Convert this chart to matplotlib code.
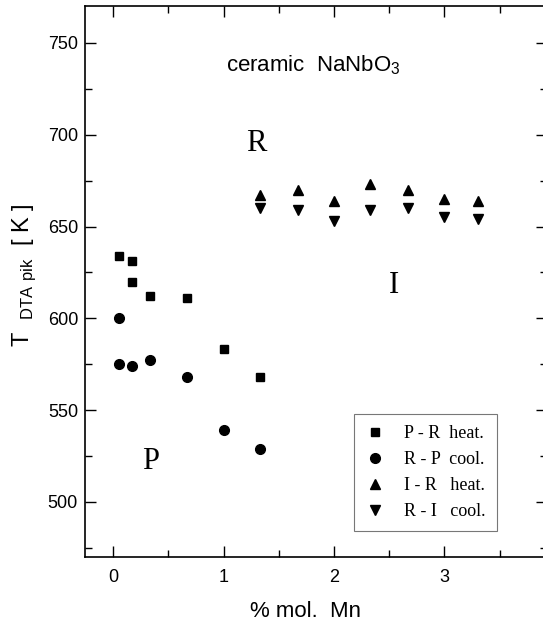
import matplotlib
matplotlib.use("Agg")
import matplotlib.pyplot as plt
from matplotlib.ticker import MultipleLocator

# % mol. Mn and DTA peak temperatures [K]
x_pr = [0.05, 0.17, 0.17, 0.33, 0.67, 1.0, 1.33]
t_pr_heat = [634, 631, 620, 612, 611, 583, 568]
x_rp = [0.05, 0.05, 0.17, 0.33, 0.67, 1.0, 1.33]
t_rp_cool = [600, 575, 574, 577, 568, 539, 529]
x_ir = [1.33, 1.67, 2.0, 2.33, 2.67, 3.0, 3.3]
t_ir_heat = [667, 670, 664, 673, 670, 665, 664]
t_ri_cool = [660, 659, 653, 659, 660, 655, 654]

plt.rcParams['font.family'] = ['Liberation Sans', 'DejaVu Sans']

fig = plt.figure(figsize=(5.43, 6.25), dpi=100)
ax = fig.add_axes([0.1565, 0.109, 0.851, 0.881])

ax.plot(x_pr, t_pr_heat, 's', color='black', markersize=6, label="P - R  heat.")
ax.plot(x_rp, t_rp_cool, 'o', color='black', markersize=7, label="R - P  cool.")
ax.plot(x_ir, t_ir_heat, '^', color='black', markersize=7.5, label="I - R   heat.")
ax.plot(x_ir, t_ri_cool, 'v', color='black', markersize=7.5, label="R - I   cool.")

ax.set_xlim(-0.255, 3.93)
ax.set_ylim(470, 770)
ax.xaxis.set_major_locator(MultipleLocator(1))
ax.xaxis.set_minor_locator(MultipleLocator(0.5))
ax.yaxis.set_major_locator(MultipleLocator(50))
ax.yaxis.set_minor_locator(MultipleLocator(25))
ax.tick_params(which='both', direction='in', top=True, right=True, labelsize=13)
ax.tick_params(which='major', length=8, width=1)
ax.tick_params(which='minor', length=5, width=1)
ax.tick_params(axis='x', pad=9)
ax.tick_params(axis='y', pad=5)
for s in ax.spines.values():
    s.set_linewidth(1.2)

# axis labels, centred where the reference puts them
ax.set_xlabel("% mol.  Mn", fontsize=16, va='center')
ax.xaxis.set_label_coords(0.477, -0.1)
ax.set_ylabel(r"T  $_{\mathregular{DTA\ pik}}$  [ K ]", fontsize=17, va='center')
ax.yaxis.set_label_coords(-0.131, 0.512)

ax.text(1.81, 738, r"ceramic  NaNbO$_{\mathregular{3}}$", fontsize=16, ha='center', va='center')
ax.text(1.3, 695, "R", fontsize=22, family='Liberation Serif', ha='center', va='center')
ax.text(2.54, 618, "I", fontsize=22, family='Liberation Serif', ha='center', va='center')
ax.text(0.34, 522, "P", fontsize=22, family='Liberation Serif', ha='center', va='center')

leg = ax.legend(loc='lower right', bbox_to_anchor=(0.891, 0.047), borderaxespad=0,
                prop={'family': 'Liberation Serif', 'size': 13}, fancybox=False,
                edgecolor='#555555', handletextpad=1.0, borderpad=0.6, labelspacing=0.5,
                handlelength=1.2)
leg.get_frame().set_linewidth(0.8)

fig.savefig("out.png", dpi=100)
